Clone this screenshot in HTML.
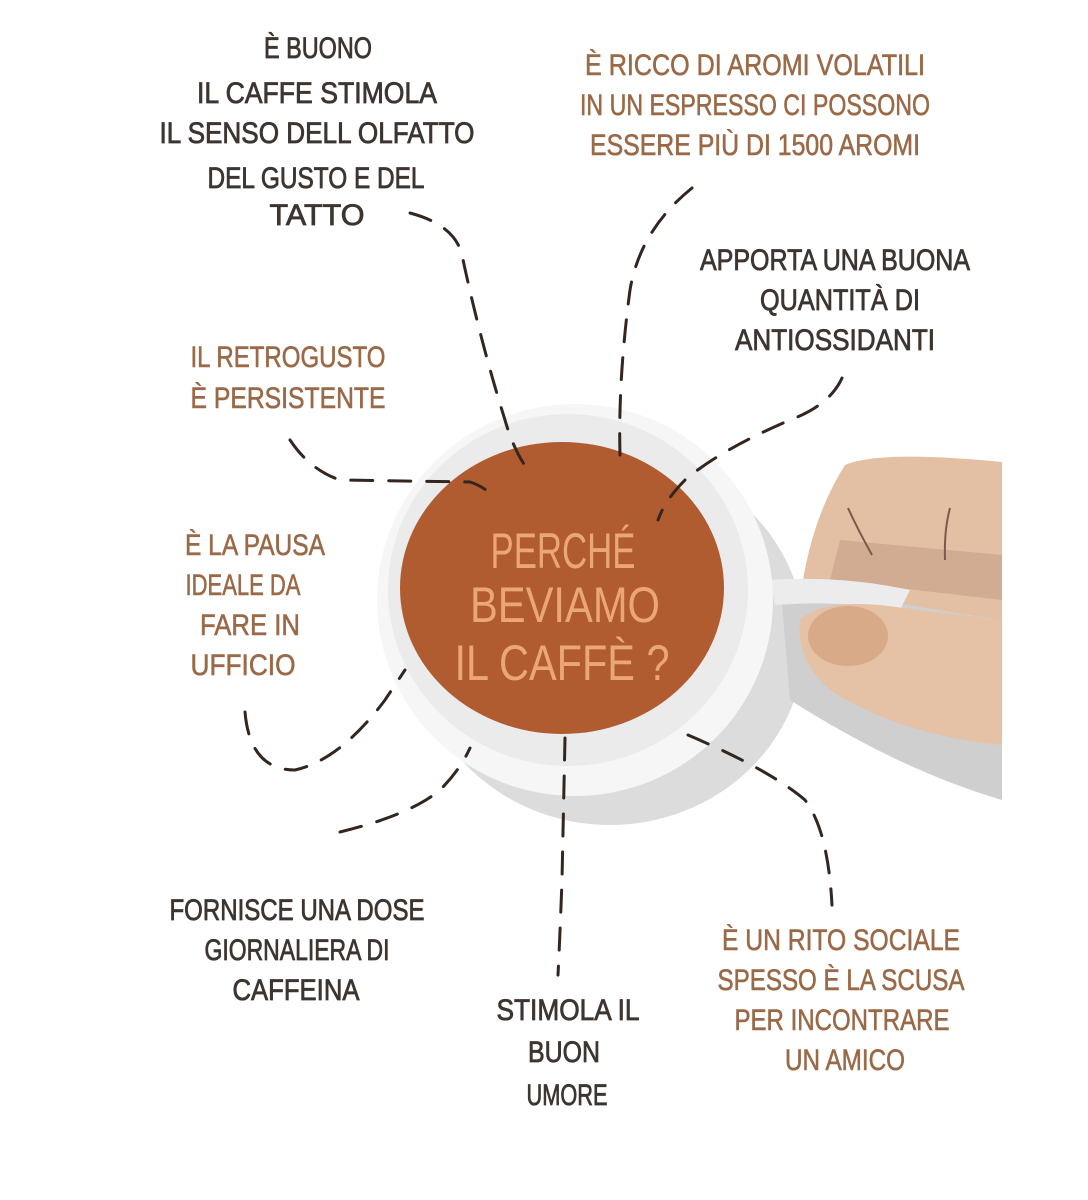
<!DOCTYPE html>
<html><head><meta charset="utf-8"><style>
html,body{margin:0;padding:0;background:#fff;}
svg{display:block;}
text{font-family:"Liberation Sans",sans-serif;font-size:30px;text-anchor:middle;}
.d{fill:#3d3530;stroke:#3d3530;stroke-width:0.8;}
.l{fill:#9a6a48;stroke:#9a6a48;stroke-width:0.6;}
.t{fill:#eaa774;font-size:50px;}
.dash{fill:none;stroke:#33261f;stroke-width:3;stroke-dasharray:22 16;stroke-linecap:round;}
</style></head><body>
<svg width="1088" height="1200" viewBox="0 0 1088 1200" xmlns="http://www.w3.org/2000/svg">
<rect width="1088" height="1200" fill="#fff"/>
<!-- hand -->
<path d="M845 465 Q880 450 1002 462 L1002 800 Q900 760 820 700 L800 600 Q810 520 845 465 Z" fill="#e3bfa3"/>
<path d="M840 540 L1002 555 L1002 600 L830 580 Z" fill="#c9a48c" opacity="0.7"/>
<!-- shadow -->
<ellipse cx="610" cy="640" rx="195" ry="185" fill="#dcdcdc"/>
<path d="M780 580 Q870 600 1002 620 L1002 800 Q900 770 790 700 Z" fill="#cfcfcf"/>
<!-- handle -->
<path d="M770 580 Q840 575 910 590 L900 610 Q840 600 775 605 Z" fill="#ececec"/>
<!-- thumb -->
<path d="M800 620 Q820 600 880 605 L1002 620 L1002 745 Q900 735 830 690 Q795 660 800 620 Z" fill="#e5c2a6"/>
<ellipse cx="848" cy="636" rx="40" ry="30" fill="#d8aa88"/>
<path d="M848 508 Q858 530 872 555" stroke="#7a5a48" stroke-width="2" fill="none"/>
<path d="M950 508 Q944 530 945 560" stroke="#7a5a48" stroke-width="2" fill="none"/>
<!-- cup -->
<ellipse cx="575" cy="600" rx="198" ry="196" fill="#f6f6f6"/>
<ellipse cx="568" cy="590" rx="180" ry="176" fill="#ebebeb"/>
<ellipse cx="562" cy="588" rx="162" ry="146" fill="#b05c30"/>
<!-- title -->
<text class="t" x="563" y="568" textLength="145" lengthAdjust="spacingAndGlyphs">PERCHÉ</text>
<text class="t" x="565" y="622" textLength="190" lengthAdjust="spacingAndGlyphs">BEVIAMO</text>
<text class="t" x="562" y="680" textLength="215" lengthAdjust="spacingAndGlyphs">IL CAFFÈ ?</text>
<!-- dashed connectors -->
<path class="dash" d="M410 213 Q455 225 462 255 Q480 340 505 420 Q515 455 532 475"/>
<path class="dash" d="M692 188 Q640 230 630 290 Q618 380 620 455"/>
<path class="dash" d="M842 378 Q830 405 790 420 Q720 450 685 480 Q665 500 658 520"/>
<path class="dash" d="M290 440 Q310 470 340 480 L470 482 Q488 488 495 500"/>
<path class="dash" d="M245 712 Q250 770 295 770 Q340 760 385 700 L405 670"/>
<path class="dash" d="M340 832 Q410 815 440 790 Q460 770 470 748"/>
<path class="dash" d="M565 738 L562 880 Q560 935 558 975"/>
<path class="dash" d="M688 735 Q770 770 805 800 Q828 830 832 905"/>
<!-- labels -->
<text class="d" x="318" y="58" textLength="108" lengthAdjust="spacingAndGlyphs">È BUONO</text>
<text class="d" x="317" y="103" textLength="240" lengthAdjust="spacingAndGlyphs">IL CAFFE STIMOLA</text>
<text class="d" x="317" y="143" textLength="315" lengthAdjust="spacingAndGlyphs">IL SENSO DELL OLFATTO</text>
<text class="d" x="316" y="188" textLength="217" lengthAdjust="spacingAndGlyphs">DEL GUSTO E DEL</text>
<text class="d" x="317" y="225" textLength="95" lengthAdjust="spacingAndGlyphs">TATTO</text>

<text class="l" x="755" y="75" textLength="340" lengthAdjust="spacingAndGlyphs">È RICCO DI AROMI VOLATILI</text>
<text class="l" x="755" y="115" textLength="350" lengthAdjust="spacingAndGlyphs">IN UN ESPRESSO CI POSSONO</text>
<text class="l" x="755" y="155" textLength="330" lengthAdjust="spacingAndGlyphs">ESSERE PIÙ DI 1500 AROMI</text>

<text class="d" x="835" y="270" textLength="270" lengthAdjust="spacingAndGlyphs">APPORTA UNA BUONA</text>
<text class="d" x="840" y="310" textLength="160" lengthAdjust="spacingAndGlyphs">QUANTITÀ DI</text>
<text class="d" x="835" y="350" textLength="200" lengthAdjust="spacingAndGlyphs">ANTIOSSIDANTI</text>

<text class="l" x="288" y="367" textLength="195" lengthAdjust="spacingAndGlyphs">IL RETROGUSTO</text>
<text class="l" x="288" y="408" textLength="195" lengthAdjust="spacingAndGlyphs">È PERSISTENTE</text>

<text class="l" x="255" y="555" textLength="140" lengthAdjust="spacingAndGlyphs">È LA PAUSA</text>
<text class="l" x="243" y="595" textLength="115" lengthAdjust="spacingAndGlyphs">IDEALE DA</text>
<text class="l" x="250" y="635" textLength="100" lengthAdjust="spacingAndGlyphs">FARE IN</text>
<text class="l" x="243" y="675" textLength="105" lengthAdjust="spacingAndGlyphs">UFFICIO</text>

<text class="d" x="297" y="920" textLength="255" lengthAdjust="spacingAndGlyphs">FORNISCE UNA DOSE</text>
<text class="d" x="297" y="960" textLength="185" lengthAdjust="spacingAndGlyphs">GIORNALIERA DI</text>
<text class="d" x="296" y="1000" textLength="127" lengthAdjust="spacingAndGlyphs">CAFFEINA</text>

<text class="d" x="568" y="1020" textLength="143" lengthAdjust="spacingAndGlyphs">STIMOLA IL</text>
<text class="d" x="564" y="1062" textLength="72" lengthAdjust="spacingAndGlyphs">BUON</text>
<text class="d" x="567" y="1105" textLength="81" lengthAdjust="spacingAndGlyphs">UMORE</text>

<text class="l" x="841" y="950" textLength="238" lengthAdjust="spacingAndGlyphs">È UN RITO SOCIALE</text>
<text class="l" x="841" y="990" textLength="247" lengthAdjust="spacingAndGlyphs">SPESSO È LA SCUSA</text>
<text class="l" x="842" y="1030" textLength="215" lengthAdjust="spacingAndGlyphs">PER INCONTRARE</text>
<text class="l" x="845" y="1070" textLength="120" lengthAdjust="spacingAndGlyphs">UN AMICO</text>
</svg>
</body></html>
